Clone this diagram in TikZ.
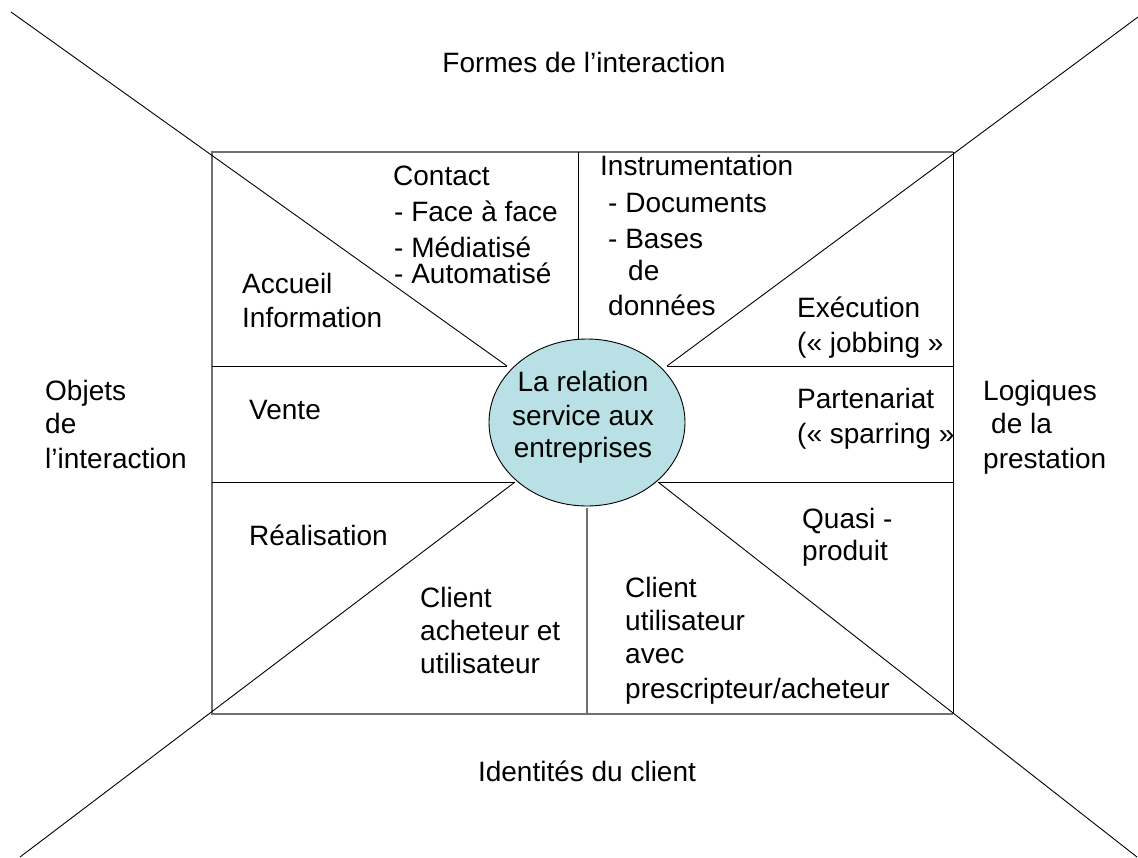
\documentclass[tikz,border=0pt]{standalone}
\usepackage{fontspec}
\setmainfont{Liberation Sans}
\usetikzlibrary{shapes.geometric}
\definecolor{coreblue}{RGB}{185,224,228}
\definecolor{frame}{RGB}{112,112,112}
\begin{document}
\begin{tikzpicture}[x=1pt,y=-1pt,
  txt/.style={anchor=base west, inner sep=0pt, font=\fontsize{28}{33}\selectfont},
  ctxt/.style={anchor=base, inner sep=0pt, font=\fontsize{28}{33}\selectfont},
  thinline/.style={draw=black, line width=0.9pt},
  frameline/.style={draw=frame, line width=1.5pt}]
\useasboundingbox (0,0) rectangle (1138,857);

% corner points of the frame and the far ends of the diagonals
\coordinate (fTL) at (212,152);
\coordinate (fTR) at (953,152);
\coordinate (fBL) at (212,714);
\coordinate (fBR) at (953,714);
\coordinate (oTL) at (11,12);
\coordinate (oTR) at (1138,17);
\coordinate (oBL) at (20,857);
\coordinate (oBR) at (1137,857);
% points where the inner lines meet near the central ellipse
\coordinate (jLT) at (507,366);
\coordinate (jRT) at (667,366);
\coordinate (jLB) at (515,482);
\coordinate (jRB) at (658,482);
\coordinate (vTa) at (578,152);
\coordinate (vTb) at (578,339);
\coordinate (vBa) at (587,508);
\coordinate (vBb) at (587,714);
\coordinate (hL1) at (212,366);
\coordinate (hR1) at (953,366);
\coordinate (hL2) at (212,482);
\coordinate (hR2) at (953,482);

% central ellipse
\node (core) [draw=black, line width=0.9pt, fill=coreblue, ellipse, minimum width=196pt,
  minimum height=167pt, inner sep=0pt] at (587,422.5) {};
\node (core1) [ctxt] at (583,391) {La relation};
\node (core2) [ctxt] at (583,425) {service aux};
\node (core3) [ctxt] at (583,457) {entreprises};

% outer frame
\draw[frameline] (fBR) -- (fBL) -- (fTL) -- (fTR);
\draw[thinline] (fTR) -- (fBR);

% inner partition lines
\draw[thinline] (hL1) -- (jLT);
\draw[thinline] (jRT) -- (hR1);
\draw[thinline] (hL2) -- (jLB);
\draw[thinline] (jRB) -- (hR2);
\draw[thinline] (vTa) -- (vTb);
\draw[frameline, line width=1.2pt] (vBa) -- (vBb);

% diagonals
\draw[thinline] (oTL) -- (jLT);
\draw[thinline] (oTR) -- (jRT);
\draw[thinline] (oBL) -- (jLB);
\draw[thinline] (oBR) -- (jRB);

% side headings
\node (top) [ctxt] at (584,72) {Formes de l’interaction};
\node (bottom) [ctxt] at (587,781) {Identités du client};
\node (left1) [txt] at (45,400) {Objets};
\node (left2) [txt] at (45,433) {de};
\node (left3) [txt] at (45,468) {l’interaction};
\node (right1) [txt] at (983,400) {Logiques};
\node (right2) [txt] at (991,433) {de la};
\node (right3) [txt] at (983,468) {prestation};

% top sectors
\node (contact1) [txt] at (393,185) {Contact};
\node (contact2) [txt] at (394,221) {- Face à face};
\node (contact3) [txt] at (394,257) {- Médiatisé};
\node (contact4) [txt] at (394,283) {- Automatisé};
\node (instr1) [txt] at (600,175) {Instrumentation};
\node (instr2) [txt] at (608,212) {- Documents};
\node (instr3) [txt] at (608,248) {- Bases};
\node (instr4) [txt] at (628,280) {de};
\node (instr5) [txt] at (608,315) {données};

% left sectors
\node (accueil1) [txt] at (242,293) {Accueil};
\node (accueil2) [txt] at (242,327) {Information};
\node (vente) [txt] at (249,419) {Vente};
\node (real) [txt] at (249,545) {Réalisation};

% right sectors
\node (exec1) [txt] at (797,317) {Exécution};
\node (exec2) [txt] at (797,352) {(« jobbing »};
\node (part1) [txt] at (797,408) {Partenariat};
\node (part2) [txt] at (797,443) {(« sparring »};
\node (quasi1) [txt] at (802,528) {Quasi -};
\node (quasi2) [txt] at (802,560) {produit};

% bottom sectors
\node (cla1) [txt] at (420,607) {Client};
\node (cla2) [txt] at (420,640) {acheteur et};
\node (cla3) [txt] at (420,673) {utilisateur};
\node (clu1) [txt] at (625,597) {Client};
\node (clu2) [txt] at (625,630) {utilisateur};
\node (clu3) [txt] at (625,663) {avec};
\node (clu4) [txt] at (625,698) {prescripteur/acheteur};
\end{tikzpicture}
\end{document}
